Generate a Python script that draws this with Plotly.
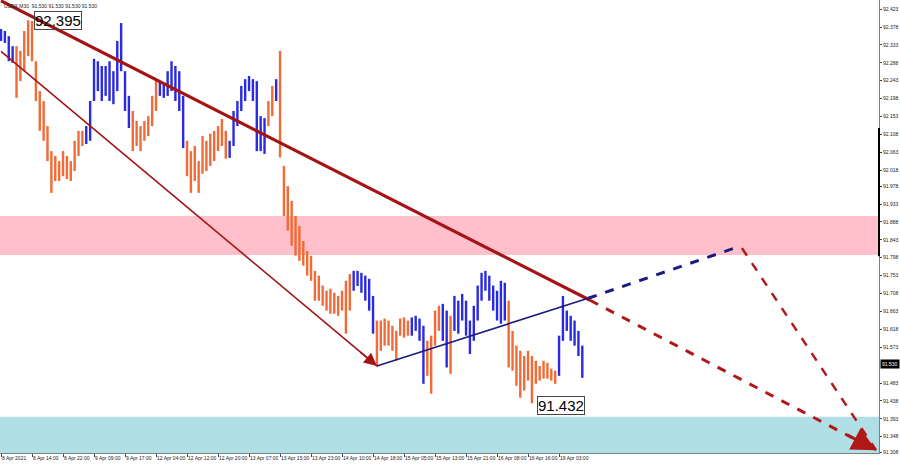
import plotly.graph_objects as go

# ---- data ----
bar_high = [92.373, 92.368, 92.355, 92.330, 92.330, 92.318, 92.368, 92.395, 92.393, 92.292,
            92.217, 92.192, 92.129, 92.066, 92.054, 92.041, 92.066, 92.054, 92.041, 92.092,
            92.117, 92.117, 92.129, 92.192, 92.298, 92.292, 92.280, 92.280, 92.292, 92.267,
            92.343, 92.388, 92.267, 92.205, 92.167, 92.142, 92.129, 92.142, 92.154, 92.205,
            92.247, 92.242, 92.234, 92.267, 92.292, 92.280, 92.267, 92.205, 92.092, 92.066,
            92.079, 92.041, 92.104, 92.092, 92.110, 92.117, 92.129, 92.147, 92.117, 92.092,
            92.167, 92.192, 92.230, 92.247, 92.255, 92.247, 92.242, 92.154, 92.149, 92.192,
            92.230, 92.247, 92.318, 92.029, 91.978, 91.941, 91.903, 91.878, 91.840, 91.815,
            91.803, 91.765, 91.753, 91.728, 91.715, 91.720, 91.710, 91.702, 91.715, 91.740,
            91.757, 91.765, 91.765, 91.760, 91.753, 91.745, 91.702, 91.640, 91.640, 91.645,
            91.640, 91.627, 91.614, 91.645, 91.648, 91.640, 91.648, 91.652, 91.645, 91.627,
            91.589, 91.602, 91.665, 91.677, 91.682, 91.665, 91.652, 91.702, 91.690, 91.707,
            91.690, 91.640, 91.677, 91.728, 91.760, 91.765, 91.753, 91.728, 91.715, 91.740,
            91.735, 91.690, 91.614, 91.577, 91.564, 91.551, 91.564, 91.551, 91.539, 91.526,
            91.539, 91.534, 91.519, 91.514, 91.602, 91.702, 91.665, 91.652, 91.640, 91.614,
            91.577]
bar_low = [92.343, 92.338, 92.292, 92.288, 92.200, 92.242, 92.267, 92.305, 92.292, 92.192,
           92.117, 92.092, 92.041, 91.961, 91.991, 91.991, 92.003, 91.996, 91.991, 92.016,
           92.054, 92.079, 92.084, 92.092, 92.192, 92.217, 92.192, 92.205, 92.192, 92.184,
           92.217, 92.267, 92.167, 92.124, 92.066, 92.079, 92.066, 92.092, 92.104, 92.129,
           92.167, 92.205, 92.200, 92.205, 92.217, 92.192, 92.167, 92.074, 92.003, 91.961,
           91.991, 91.961, 92.009, 92.016, 92.029, 92.041, 92.066, 92.079, 92.047, 92.049,
           92.079, 92.129, 92.167, 92.192, 92.217, 92.192, 92.066, 92.066, 92.059, 92.129,
           92.154, 92.192, 92.050, 91.903, 91.866, 91.828, 91.803, 91.790, 91.778, 91.753,
           91.740, 91.690, 91.690, 91.677, 91.665, 91.657, 91.657, 91.652, 91.665, 91.607,
           91.665, 91.715, 91.727, 91.710, 91.690, 91.665, 91.607, 91.524, 91.564, 91.577,
           91.577, 91.564, 91.539, 91.602, 91.597, 91.602, 91.602, 91.614, 91.589, 91.481,
           91.501, 91.456, 91.577, 91.614, 91.589, 91.522, 91.506, 91.614, 91.607, 91.640,
           91.602, 91.556, 91.589, 91.640, 91.690, 91.715, 91.690, 91.665, 91.640, 91.632,
           91.640, 91.522, 91.514, 91.476, 91.446, 91.464, 91.489, 91.432, 91.481, 91.489,
           91.494, 91.494, 91.489, 91.481, 91.501, 91.589, 91.614, 91.589, 91.577, 91.551,
           91.496]
# u = blue (up) bar, d = orange (down) bar; 10 bars per chunk
bar_dir = ("uuuudddddd" "dddddddddd" "dduuuuuuuu" "uuuudddddd" "duuuuuuudd"
           "dddddddddu" "uuuuuuuuud" "dudddddddd" "dddddddddd" "duuuuuuddd"
           "dddddduuuu" "dddduuduuu" "uuuuuuuuuu" "uddddddddd" "dddduuuuuu" "u")

x_labels = ["8 Apr 2021", "8 Apr 14:00", "8 Apr 22:00", "9 Apr 09:00", "9 Apr 17:00",
            "12 Apr 04:00", "12 Apr 12:00", "12 Apr 20:00", "13 Apr 07:00", "13 Apr 15:00",
            "13 Apr 23:00", "14 Apr 10:00", "14 Apr 18:00", "15 Apr 05:00", "15 Apr 13:00",
            "15 Apr 21:00", "16 Apr 08:00", "16 Apr 16:00", "19 Apr 03:00"]
x_label_bars = [0, 8, 16, 24, 32, 40, 48, 56, 64, 72, 80, 88, 96, 104, 112, 120, 128, 136, 144]

y_ticks = [92.423, 92.378, 92.333, 92.288, 92.243, 92.198, 92.153, 92.108, 92.063, 92.018,
           91.978, 91.933, 91.888, 91.843, 91.798, 91.753, 91.708, 91.663, 91.618, 91.573,
           91.483, 91.438, 91.393, 91.348, 91.308]

last_price = 91.530
high_mark = 92.395
low_mark = 91.432
pink_zone = [91.805, 91.903]
cyan_zone = [91.250, 91.398]

# analyst wave lines: (bar index, price)
channel_top = [(0, 92.444), (152.0, 91.691)]
channel_top_ext = [(152.0, 91.691), (225.8, 91.314)]
wave_down = [(0, 92.317), (97.0, 91.526)]
base_line = [(97.0, 91.526), (151.5, 91.696)]
base_line_ext = [(151.5, 91.696), (190.7, 91.827)]
target_leg = [(191.2, 91.822), (225.8, 91.314)]

# ---- figure ----
n = min(len(bar_high), len(bar_low))
up_x, up_y, dn_x, dn_y = [], [], [], []
for i in range(n):
    d = bar_dir[i] if i < len(bar_dir) else "u"
    if d == "u":
        up_x += [i, i, None]; up_y += [bar_low[i], bar_high[i], None]
    else:
        dn_x += [i, i, None]; dn_y += [bar_low[i], bar_high[i], None]

BLUE = "#2a2ae0"
ORANGE = "#f26a35"
DARKRED = "#a51414"
NAVY = "#1b1b80"

fig = go.Figure()
fig.add_trace(go.Scatter(x=up_x, y=up_y, mode="lines", line=dict(color=BLUE, width=2.4),
                         hoverinfo="skip", showlegend=False))
fig.add_trace(go.Scatter(x=dn_x, y=dn_y, mode="lines", line=dict(color=ORANGE, width=2.4),
                         hoverinfo="skip", showlegend=False))

shapes = []
shapes.append(dict(type="rect", xref="paper", yref="y", x0=0, x1=1, y0=pink_zone[0], y1=pink_zone[1],
                   fillcolor="#ffc0cb", line=dict(width=0), layer="below"))
shapes.append(dict(type="rect", xref="paper", yref="y", x0=0, x1=1, y0=cyan_zone[0], y1=cyan_zone[1],
                   fillcolor="#b0e0e6", line=dict(width=0), layer="below"))


def seg(pts, color, width, dash="solid"):
    (x0, y0), (x1, y1) = pts
    return dict(type="line", xref="x", yref="y", x0=x0, y0=y0, x1=x1, y1=y1,
                line=dict(color=color, width=width, dash=dash), layer="above")


shapes.append(seg(wave_down, DARKRED, 1.6))
shapes.append(seg(channel_top, DARKRED, 3.2))
shapes.append(seg(base_line, NAVY, 1.6))
shapes.append(seg(base_line_ext, NAVY, 3, "dash"))
shapes.append(seg(channel_top_ext, "#b01818", 3, "dash"))
shapes.append(seg(target_leg, "#b01818", 2.5, "dash"))
shapes.append(dict(type="line", xref="paper", yref="y", x0=1, x1=1, y0=92.124, y1=91.802,
                   line=dict(color="black", width=2)))

SMALL = dict(family="Liberation Sans", size=5, color="#222")

annotations = [
    dict(x=8.5, y=high_mark, xref="x", yref="y", text=f"{high_mark:.3f}", showarrow=False,
         xanchor="left", yanchor="middle", font=dict(family="Liberation Sans", size=15, color="black"),
         bordercolor="#444", borderwidth=1, borderpad=0),
    dict(x=138.3, y=low_mark - 0.005, xref="x", yref="y", text=f"{low_mark:.3f}", showarrow=False,
         xanchor="left", yanchor="middle", font=dict(family="Liberation Sans", size=15, color="black"),
         bordercolor="#444", borderwidth=1, borderpad=0, bgcolor="white"),
    dict(x=0.002, y=1.0, xref="paper", yref="paper", xanchor="left", yanchor="top", yshift=-1,
         text=f"USDX,M30  {last_price:.3f} {last_price:.3f} {last_price:.3f} {last_price:.3f}",
         showarrow=False, font=SMALL),
    dict(x=1, y=last_price, xref="paper", yref="y", xanchor="left", yanchor="middle", xshift=1,
         text=f"{last_price:.3f}", showarrow=False, bgcolor="black",
         font=dict(family="Liberation Sans", size=5, color="white"), borderpad=1),
    dict(x=channel_top_ext[1][0], y=channel_top_ext[1][1], xref="x", yref="y", text="",
         showarrow=True, ax=-30, ay=-16, arrowhead=2, arrowsize=1.6, arrowwidth=3,
         arrowcolor="#b01818", standoff=0),
    dict(x=wave_down[1][0], y=wave_down[1][1], xref="x", yref="y", text="",
         showarrow=True, ax=-18, ay=-15, arrowhead=2, arrowsize=1.6, arrowwidth=1.6,
         arrowcolor=DARKRED, standoff=0),
]

fig.update_layout(
    width=900, height=466,
    margin=dict(l=0, r=21, t=0, b=13),
    plot_bgcolor="white", paper_bgcolor="white",
    shapes=shapes, annotations=annotations,
    showlegend=False,
    xaxis=dict(range=[-0.26, 226.56], showgrid=False, zeroline=False, showline=True,
               linecolor="#808080", linewidth=1, tickvals=x_label_bars, ticktext=x_labels,
               ticks="outside", ticklen=3, tickcolor="#444", ticklabelposition="outside right",
               tickangle=0, automargin=False, tickfont=SMALL, fixedrange=True),
    yaxis=dict(range=[91.307, 92.446], side="right", showgrid=False, zeroline=False,
               showline=True, linecolor="#808080", linewidth=1,
               tickvals=y_ticks, ticktext=[f"{v:.3f}" for v in y_ticks],
               ticks="outside", ticklen=2, tickcolor="#444", automargin=False,
               tickfont=SMALL, fixedrange=True),
)

fig.write_html("out.html", post_script="document.body.style.margin='0';",
               config={"displayModeBar": False})
